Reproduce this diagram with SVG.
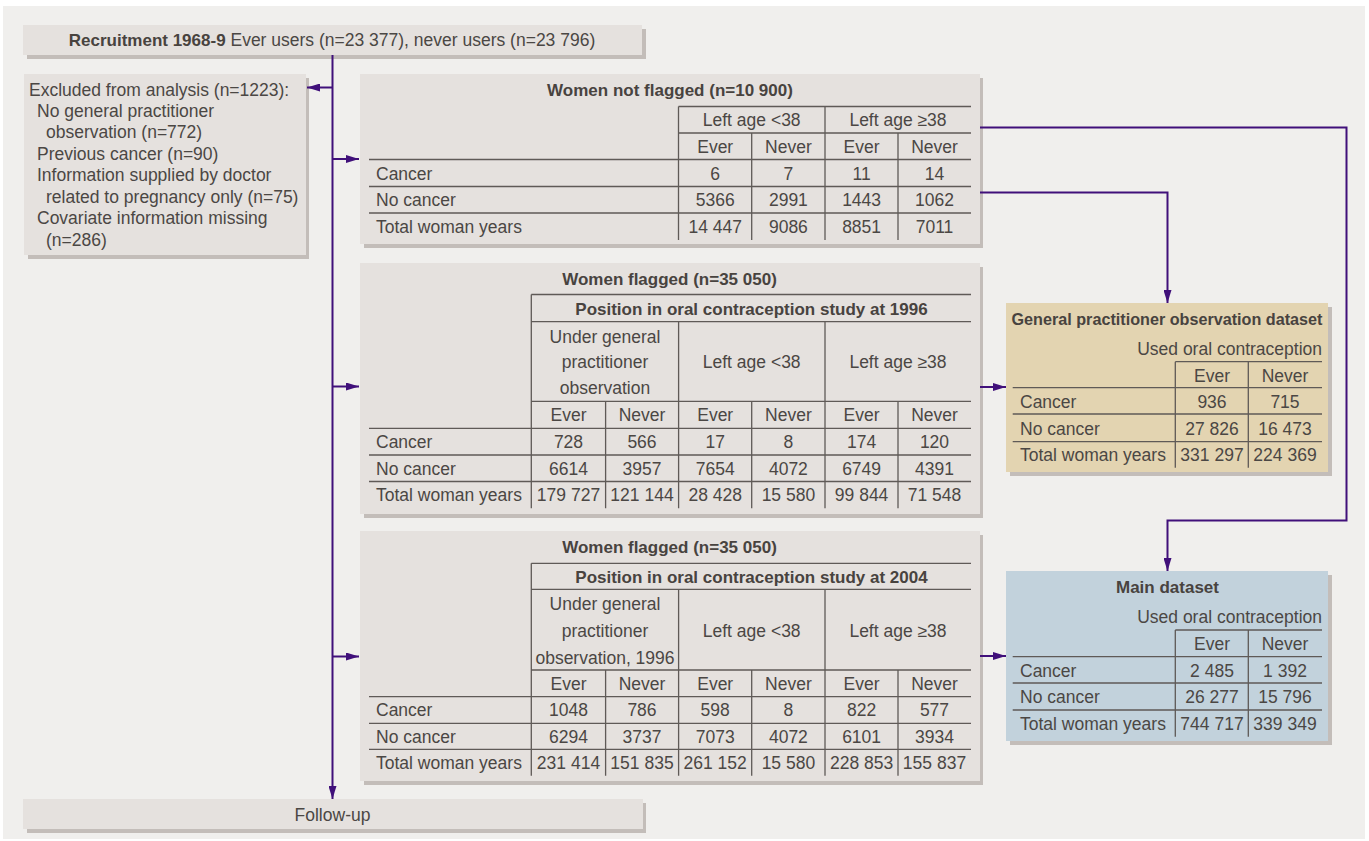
<svg xmlns="http://www.w3.org/2000/svg" width="1369" height="841" viewBox="0 0 1369 841">
<defs>
<style>
text{font-family:"Liberation Sans",Arial,sans-serif;font-size:17.5px;fill:#4b4744}
.c{text-anchor:middle}
.e{text-anchor:end}
.b{font-weight:bold;font-size:17px;fill:#48433f}
.box{fill:#e5e1de}
.sh{fill:#c3bdb9}
.gl{stroke:#5f5a57;stroke-width:1.3;fill:none}
.cn{stroke:#40107a;stroke-width:2;fill:none}
</style>
<marker id="ah" markerUnits="userSpaceOnUse" markerWidth="14" markerHeight="8" refX="13" refY="4" orient="auto">
<path d="M0,0 L13,4 L0,8 z" fill="#40107a"/>
</marker>
</defs>
<rect x="0" y="0" width="1369" height="841" fill="#ffffff"/>
<rect x="3" y="6" width="1362" height="833" fill="#f0efed"/>

<g id="recruitment">
<rect class="sh" x="27" y="29" width="619" height="30"/>
<rect class="box" x="23" y="25" width="619" height="30"/>
<text class="c" x="332" y="46"><tspan class="b">Recruitment 1968-9</tspan> Ever users (n=23 377), never users (n=23 796)</text>
</g>

<g id="excluded">
<rect class="sh" x="28" y="78" width="281" height="181"/>
<rect class="box" x="24" y="74" width="282" height="181"/>
<text x="29" y="96">Excluded from analysis (n=1223):</text>
<text x="37" y="117">No general practitioner</text>
<text x="46" y="138">observation (n=772)</text>
<text x="37" y="160">Previous cancer (n=90)</text>
<text x="37" y="181">Information supplied by doctor</text>
<text x="46" y="203">related to pregnancy only (n=75)</text>
<text x="37" y="224">Covariate information missing</text>
<text x="46" y="246">(n=286)</text>
</g>

<g id="not-flagged">
<rect class="sh" x="364" y="78" width="619" height="170"/>
<rect class="box" x="360" y="74" width="620" height="170"/>
<text class="c b" x="670" y="96">Women not flagged (n=10 900)</text>
<path class="gl" d="M678.5,106.5H971 M678.5,133H971 M369,159.5H971 M369,186.5H971 M369,213H971 M678.5,106.5V240 M825,106.5V240 M751.7,133V240 M898,133V240"/>
<text class="c" x="751.7" y="126">Left age &lt;38</text>
<text class="c" x="898" y="126">Left age ≥38</text>
<text class="c" x="715.2" y="153">Ever</text><text class="c" x="788.4" y="153">Never</text><text class="c" x="861.6" y="153">Ever</text><text class="c" x="934.5" y="153">Never</text>
<text x="376" y="180">Cancer</text>
<text class="c" x="715.2" y="180">6</text><text class="c" x="788.4" y="180">7</text><text class="c" x="861.6" y="180">11</text><text class="c" x="934.5" y="180">14</text>
<text x="376" y="206">No cancer</text>
<text class="c" x="715.2" y="206">5366</text><text class="c" x="788.4" y="206">2991</text><text class="c" x="861.6" y="206">1443</text><text class="c" x="934.5" y="206">1062</text>
<text x="376" y="233">Total woman years</text>
<text class="c" x="715.2" y="233">14 447</text><text class="c" x="788.4" y="233">9086</text><text class="c" x="861.6" y="233">8851</text><text class="c" x="934.5" y="233">7011</text>
</g>

<g id="flagged-1996">
<rect class="sh" x="364" y="267" width="619" height="251"/>
<rect class="box" x="360" y="263" width="620" height="251"/>
<text class="c b" x="669.5" y="285">Women flagged (n=35 050)</text>
<path class="gl" d="M531.3,294.5H971 M531.3,321.7H971 M531.3,401.3H971 M369,428.3H971 M369,455H971 M369,481.5H971 M531.3,294.5V508.3 M678.6,321.7V508.3 M825,321.7V508.3 M605.6,401.3V508.3 M751.7,401.3V508.3 M898,401.3V508.3"/>
<text class="c b" x="751.5" y="315">Position in oral contraception study at 1996</text>
<text class="c" x="605" y="343">Under general</text>
<text class="c" x="605" y="368">practitioner</text>
<text class="c" x="605" y="394">observation</text>
<text class="c" x="751.7" y="368">Left age &lt;38</text>
<text class="c" x="898" y="368">Left age ≥38</text>
<text class="c" x="568.5" y="421">Ever</text><text class="c" x="642" y="421">Never</text><text class="c" x="715.2" y="421">Ever</text><text class="c" x="788.4" y="421">Never</text><text class="c" x="861.6" y="421">Ever</text><text class="c" x="934.5" y="421">Never</text>
<text x="376" y="448">Cancer</text>
<text class="c" x="568.5" y="448">728</text><text class="c" x="642" y="448">566</text><text class="c" x="715.2" y="448">17</text><text class="c" x="788.4" y="448">8</text><text class="c" x="861.6" y="448">174</text><text class="c" x="934.5" y="448">120</text>
<text x="376" y="475">No cancer</text>
<text class="c" x="568.5" y="475">6614</text><text class="c" x="642" y="475">3957</text><text class="c" x="715.2" y="475">7654</text><text class="c" x="788.4" y="475">4072</text><text class="c" x="861.6" y="475">6749</text><text class="c" x="934.5" y="475">4391</text>
<text x="376" y="501">Total woman years</text>
<text class="c" x="568.5" y="501">179 727</text><text class="c" x="642" y="501">121 144</text><text class="c" x="715.2" y="501">28 428</text><text class="c" x="788.4" y="501">15 580</text><text class="c" x="861.6" y="501">99 844</text><text class="c" x="934.5" y="501">71 548</text>
</g>

<g id="flagged-2004">
<rect class="sh" x="364" y="535" width="619" height="250"/>
<rect class="box" x="360" y="531" width="620" height="250"/>
<text class="c b" x="669.5" y="553">Women flagged (n=35 050)</text>
<path class="gl" d="M531.3,563.3H971 M531.3,589.3H971 M531.3,670H971 M369,696.7H971 M369,723.3H971 M369,749.3H971 M531.3,563.3V775.7 M678.6,589.3V775.7 M825,589.3V775.7 M605.6,670V775.7 M751.7,670V775.7 M898,670V775.7"/>
<text class="c b" x="751.5" y="583">Position in oral contraception study at 2004</text>
<text class="c" x="605" y="610">Under general</text>
<text class="c" x="605" y="637">practitioner</text>
<text class="c" x="605" y="664">observation, 1996</text>
<text class="c" x="751.7" y="637">Left age &lt;38</text>
<text class="c" x="898" y="637">Left age ≥38</text>
<text class="c" x="568.5" y="690">Ever</text><text class="c" x="642" y="690">Never</text><text class="c" x="715.2" y="690">Ever</text><text class="c" x="788.4" y="690">Never</text><text class="c" x="861.6" y="690">Ever</text><text class="c" x="934.5" y="690">Never</text>
<text x="376" y="716">Cancer</text>
<text class="c" x="568.5" y="716">1048</text><text class="c" x="642" y="716">786</text><text class="c" x="715.2" y="716">598</text><text class="c" x="788.4" y="716">8</text><text class="c" x="861.6" y="716">822</text><text class="c" x="934.5" y="716">577</text>
<text x="376" y="743">No cancer</text>
<text class="c" x="568.5" y="743">6294</text><text class="c" x="642" y="743">3737</text><text class="c" x="715.2" y="743">7073</text><text class="c" x="788.4" y="743">4072</text><text class="c" x="861.6" y="743">6101</text><text class="c" x="934.5" y="743">3934</text>
<text x="376" y="769">Total woman years</text>
<text class="c" x="568.5" y="769">231 414</text><text class="c" x="642" y="769">151 835</text><text class="c" x="715.2" y="769">261 152</text><text class="c" x="788.4" y="769">15 580</text><text class="c" x="861.6" y="769">228 853</text><text class="c" x="934.5" y="769">155 837</text>
</g>

<g id="gp-dataset">
<rect class="sh" x="1010" y="307" width="322" height="169"/>
<rect x="1006" y="303" width="322" height="169" fill="#e3d4b1"/>
<text class="c b" x="1167" y="325" textLength="311" lengthAdjust="spacingAndGlyphs">General practitioner observation dataset</text>
<text class="e" x="1322" y="355">Used oral contraception</text>
<path class="gl" d="M1175.3,361.7H1322 M1012.7,387.7H1322 M1012.7,414H1322 M1012.7,441.7H1322 M1175.3,361.7V467.7 M1248.3,361.7V467.7"/>
<text class="c" x="1212" y="382">Ever</text><text class="c" x="1285" y="382">Never</text>
<text x="1020" y="408">Cancer</text>
<text class="c" x="1212" y="408">936</text><text class="c" x="1285" y="408">715</text>
<text x="1020" y="435">No cancer</text>
<text class="c" x="1212" y="435">27 826</text><text class="c" x="1285" y="435">16 473</text>
<text x="1020" y="461">Total woman years</text>
<text class="c" x="1212" y="461">331 297</text><text class="c" x="1285" y="461">224 369</text>
</g>

<g id="main-dataset">
<rect class="sh" x="1010" y="575" width="322" height="170"/>
<rect x="1006" y="571" width="322" height="170" fill="#c2d2dc"/>
<text class="c b" x="1167.5" y="593">Main dataset</text>
<text class="e" x="1322" y="623">Used oral contraception</text>
<path class="gl" d="M1175.3,630H1322 M1012.7,656.7H1322 M1012.7,683H1322 M1012.7,710H1322 M1175.3,630V736.7 M1248.3,630V736.7"/>
<text class="c" x="1212" y="650">Ever</text><text class="c" x="1285" y="650">Never</text>
<text x="1020" y="677">Cancer</text>
<text class="c" x="1212" y="677">2 485</text><text class="c" x="1285" y="677">1 392</text>
<text x="1020" y="703">No cancer</text>
<text class="c" x="1212" y="703">26 277</text><text class="c" x="1285" y="703">15 796</text>
<text x="1020" y="730">Total woman years</text>
<text class="c" x="1212" y="730">744 717</text><text class="c" x="1285" y="730">339 349</text>
</g>

<g id="follow-up">
<rect class="sh" x="27" y="803" width="619" height="30"/>
<rect class="box" x="23" y="799" width="620" height="30"/>
<text class="c" x="332.5" y="821">Follow-up</text>
</g>

<g id="connectors">
<path class="cn" d="M332.5,55V799" marker-end="url(#ah)"/>
<path class="cn" d="M332.5,87.5H307" marker-end="url(#ah)"/>
<path class="cn" d="M332.5,159H359" marker-end="url(#ah)"/>
<path class="cn" d="M332.5,386.5H359" marker-end="url(#ah)"/>
<path class="cn" d="M332.5,656.5H359" marker-end="url(#ah)"/>
<path class="cn" d="M980,387H1006" marker-end="url(#ah)"/>
<path class="cn" d="M980,656H1006" marker-end="url(#ah)"/>
<path class="cn" d="M980,127.5H1346.5V520.5H1167.5V571" marker-end="url(#ah)"/>
<path class="cn" d="M980,192.5H1167.5V303" marker-end="url(#ah)"/>
</g>
</svg>
